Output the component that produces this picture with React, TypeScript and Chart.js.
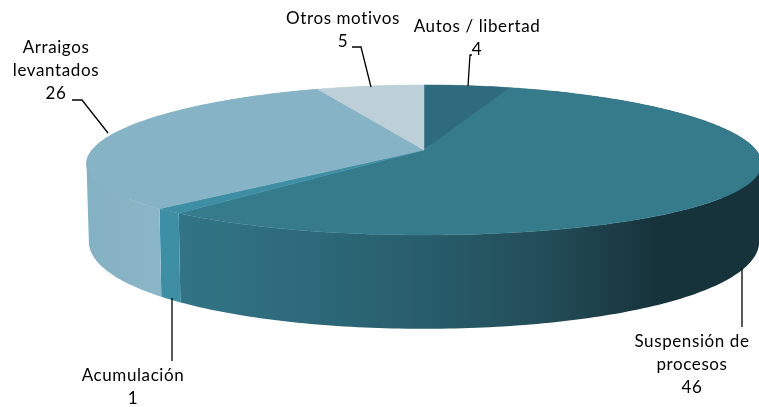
import React, { useEffect, useRef } from "react";
import { Chart, registerables } from "chart.js";

Chart.register(...registerables);

const categories = ["Autos / libertad", "Suspensión de procesos", "Acumulación", "Arraigos levantados", "Otros motivos"];
const values = [4, 46, 1, 26, 5];
const colors = ["#2E6B7E", "#367B8C", "#3E8FA5", "#86B3C5", "#BDD0D8"];

// wall shading of each slice: [x, colour] stops
const wallStops: [number, string][][] = [
  [[424, "#2E6B7E"], [510, "#2E6B7E"]],
  [[179, "#327586"], [300, "#2D6A7B"], [420, "#285E6C"], [550, "#224C57"], [620, "#1B3B45"], [660, "#16323A"], [765, "#16323A"]],
  [[160, "#3E8FA5"], [182, "#3E8DA3"]],
  [[86, "#84B1C3"], [165, "#8BB6C7"]],
  [[320, "#BDD0D8"], [424, "#BDD0D8"]],
];

const labelFont = "17px Lato";
const labels: { lines: string[]; x: number; y: number }[] = [
  { lines: ["Autos / libertad", "4"], x: 477, y: 27 },
  { lines: ["Suspensión de", "procesos", "46"], x: 692, y: 342 },
  { lines: ["Acumulación", "1"], x: 133, y: 376 },
  { lines: ["Arraigos", "levantados", "26"], x: 56, y: 48 },
  { lines: ["Otros motivos", "5"], x: 343, y: 19 },
];
const leaders: number[][][] = [
  [[472, 55], [470, 55], [468, 86]],
  [[742, 268], [742, 327]],
  [[172, 298], [172, 361]],
  [[72, 100], [82, 100], [108, 133]],
  [[352, 47], [361, 47], [371, 87]],
];

const AX = 424, AY = 150, RX = 332, RY = 73.67, KX = 0.18, KY = 0.1333;
const BY = 225, RBY = 90, BX_SCALE = 0.993;

function topPoint(t: number): [number, number] {
  const u = Math.sin(t), v = Math.cos(t);
  return [AX + (RX * u) / (1 + KX * v), AY - (RY * v) / (1 + KY * v)];
}
function bottomPoint(t: number): [number, number] {
  const u = Math.sin(t), v = Math.cos(t);
  return [AX + (BX_SCALE * RX * u) / (1 + KX * v), BY - (RBY * v) / (1 + KY * v)];
}

const pie3d = {
  id: "pie3d",
  beforeDatasetDraw(chart: any) {
    const ctx: CanvasRenderingContext2D = chart.ctx;
    const arcs = chart.getDatasetMeta(0).data;
    const STEPS = 360;
    const samples = (a: any) => {
      const s = a.startAngle + Math.PI / 2, e = a.endAngle + Math.PI / 2;
      const n = Math.max(4, Math.ceil(((e - s) / (2 * Math.PI)) * STEPS));
      return Array.from({ length: n + 1 }, (_, i) => s + ((e - s) * i) / n);
    };
    // walls: one path of same-winding quads per slice, so nothing cancels or leaves seams
    arcs.forEach((a: any, i: number) => {
      const ts = samples(a);
      const stops = wallStops[i];
      const g = ctx.createLinearGradient(stops[0][0], 0, stops[stops.length - 1][0], 0);
      const span = stops[stops.length - 1][0] - stops[0][0];
      stops.forEach(([x, c]) => g.addColorStop((x - stops[0][0]) / span, c));
      ctx.fillStyle = g;
      ctx.beginPath();
      for (let k = 0; k < ts.length - 1; k++) {
        let q = [topPoint(ts[k]), topPoint(ts[k + 1]), bottomPoint(ts[k + 1]), bottomPoint(ts[k])];
        let area = 0;
        q.forEach((p, j) => {
          const n = q[(j + 1) % 4];
          area += p[0] * n[1] - n[0] * p[1];
        });
        if (area < 0) q = q.reverse();
        q.forEach((p, j) => (j === 0 ? ctx.moveTo(p[0], p[1]) : ctx.lineTo(p[0], p[1])));
        ctx.closePath();
      }
      ctx.fill("nonzero");
    });
    // top faces
    arcs.forEach((a: any) => {
      ctx.fillStyle = a.options.backgroundColor;
      ctx.strokeStyle = a.options.backgroundColor;
      ctx.lineWidth = 0.5;
      ctx.beginPath();
      ctx.moveTo(AX, AY);
      samples(a).forEach((t) => {
        const [x, y] = topPoint(t);
        ctx.lineTo(x, y);
      });
      ctx.closePath();
      ctx.fill();
      ctx.stroke();
    });
    return false;
  },
  afterDraw(chart: any) {
    const ctx: CanvasRenderingContext2D = chart.ctx;
    ctx.save();
    ctx.strokeStyle = "#000000";
    ctx.lineWidth = 1.3;
    leaders.forEach((pts) => {
      ctx.beginPath();
      pts.forEach(([x, y], i) => (i === 0 ? ctx.moveTo(x, y) : ctx.lineTo(x, y)));
      ctx.stroke();
    });
    ctx.fillStyle = "#000000";
    ctx.font = labelFont;
    ctx.textAlign = "center";
    ctx.textBaseline = "middle";
    (ctx as any).letterSpacing = "0.6px";
    labels.forEach((l) => {
      l.lines.forEach((line, i) => ctx.fillText(line, l.x, l.y + i * 23));
    });
    ctx.restore();
  },
};

export default function App() {
  const ref = useRef<HTMLCanvasElement | null>(null);
  useEffect(() => {
    const chart = new Chart(ref.current as HTMLCanvasElement, {
      type: "pie",
      data: { labels: categories, datasets: [{ data: values, backgroundColor: colors, borderWidth: 0 }] },
      options: {
        responsive: false,
        animation: false,
        plugins: { legend: { display: false }, tooltip: { enabled: false } },
      },
      plugins: [pie3d],
    } as any);
    return () => chart.destroy();
  }, []);
  return (
    <canvas
      ref={ref}
      width={759}
      height={407}
      style={{ position: "absolute", left: 0, top: 0, width: 759, height: 407, display: "block" }}
    />
  );
}
